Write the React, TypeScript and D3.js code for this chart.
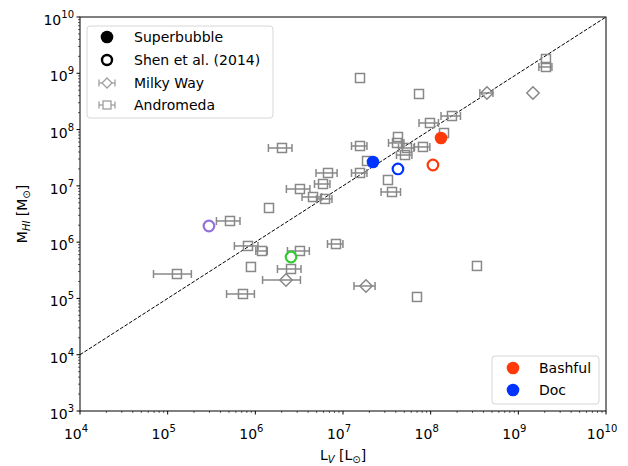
import React from "react";
import * as d3 from "d3";

// log10 values
const andromedaLogL = [7.194, 7.867, 9.315, 9.315, 8.243, 7.992, 8.152, 7.627, 7.616, 7.73, 7.707, 7.912, 7.194, 7.274, 7.194, 7.513, 7.559, 6.304, 6.829, 6.772, 6.509, 6.658, 6.795, 6.156, 5.711, 5.916, 6.076, 6.509, 6.92, 5.95, 5.106, 6.407, 5.859, 8.528, 7.844];
const andromedaLogM = [8.916, 8.632, 9.254, 9.112, 8.241, 8.117, 7.939, 7.868, 7.762, 7.673, 7.548, 7.691, 7.708, 7.442, 7.229, 7.104, 6.891, 7.673, 7.229, 7.033, 6.944, 6.802, 6.767, 6.607, 6.376, 5.932, 5.843, 5.843, 5.967, 5.559, 5.434, 5.523, 5.079, 5.577, 5.026];
const andromedaErr = [0, 0, 0, 0.17, 0.25, 0.25, 0, 0, 0.2, 0.2, 0.2, 0.2, 0.2, 0, 0.2, 0, 0.25, 0.3, 0.27, 0.2, 0.3, 0.25, 0.2, 0, 0.3, 0.3, 0.15, 0.28, 0.2, 0, 0.46, 0.3, 0.35, 0, 0];

const milkyLogL = [8.642, 9.167, 7.262, 6.35];
const milkyLogM = [8.65, 8.65, 5.221, 5.328];
const milkyErr = [0.17, 0, 0.27, 0.46];

const superNames = ["Bashful", "Doc"];
const superColors = ["#ff3a0a", "#0033ff"];
const superLogL = [8.118, 7.342];
const superLogM = [7.85, 7.424];

const shenLogL = [8.026, 7.627, 5.471, 6.407];
const shenLogM = [7.371, 7.3, 6.287, 5.736];
const shenColors = ["#ff3a0a", "#0033ff", "#9370db", "#32cd32"];

const xDecades = [4, 5, 6, 7, 8, 9, 10];
const yDecades = [3, 4, 5, 6, 7, 8, 9, 10];

const W = 628, H = 466;
const L = 80, R = 606, T = 17, B = 411;
const font = "DejaVu Sans, sans-serif";
const gray = "#888888";
const FS = 14;
const FSS = 10;

const x = d3.scaleLog().domain([1e4, 1e10]).range([L, R]);
const y = d3.scaleLog().domain([1e3, 1e10]).range([B, T]);

function minors(decs: number[]) {
  const out: number[] = [];
  for (let i = 0; i < decs.length - 1; i++)
    for (let k = 2; k <= 9; k++) out.push(k * Math.pow(10, decs[i]));
  return out;
}

function ErrBar({ cx, cy, v, frac, h }: any) {
  if (!frac) return null;
  const x1 = x(v * (1 - frac));
  const x2 = x(v * (1 + frac));
  return (
    <g stroke={gray} strokeWidth={1.5} fill="none">
      <line x1={x1} x2={x2} y1={cy} y2={cy} />
      <line x1={x1} x2={x1} y1={cy - h} y2={cy + h} />
      <line x1={x2} x2={x2} y1={cy - h} y2={cy + h} />
    </g>
  );
}

function Square({ cx, cy, s = 4.5 }: any) {
  return <rect x={cx - s} y={cy - s} width={2 * s} height={2 * s} fill="none" stroke={gray} strokeWidth={1.5} />;
}
function Diamond({ cx, cy, s = 6.2 }: any) {
  return <path d={`M${cx},${cy - s}L${cx + s},${cy}L${cx},${cy + s}L${cx - s},${cy}Z`} fill="none" stroke={gray} strokeWidth={1.5} />;
}

function Pow({ base = "10", exp, ...rest }: any) {
  return (
    <text {...rest} fontFamily={font}>
      <tspan fontSize={FS}>{base}</tspan>
      <tspan fontSize={FSS} dy={-7}>{exp}</tspan>
    </text>
  );
}

export default function App() {
  const andromeda = andromedaLogL.map((lx, i) => ({ v: Math.pow(10, lx), m: Math.pow(10, andromedaLogM[i]), e: andromedaErr[i] }));
  const milky = milkyLogL.map((lx, i) => ({ v: Math.pow(10, lx), m: Math.pow(10, milkyLogM[i]), e: milkyErr[i] }));
  return (
    <svg width={W} height={H} style={{ position: "absolute", left: 0, top: 0, background: "white" }}>
      <rect width={W} height={H} fill="white" />
      {/* one-to-one line */}
      <line x1={x(1e4)} y1={y(1e4)} x2={x(1e10)} y2={y(1e10)} stroke="black" strokeWidth={1} strokeDasharray="3.7,1.6" />
      {/* Andromeda */}
      {andromeda.map((d, i) => (
        <g key={"a" + i}>
          <ErrBar cx={x(d.v)} cy={y(d.m)} v={d.v} frac={d.e} h={4} />
          <Square cx={x(d.v)} cy={y(d.m)} />
        </g>
      ))}
      {/* Milky Way */}
      {milky.map((d, i) => (
        <g key={"m" + i}>
          <ErrBar cx={x(d.v)} cy={y(d.m)} v={d.v} frac={d.e} h={4} />
          <Diamond cx={x(d.v)} cy={y(d.m)} />
        </g>
      ))}
      {/* Shen et al. */}
      {shenLogL.map((lx, i) => (
        <circle key={"s" + i} cx={x(Math.pow(10, lx))} cy={y(Math.pow(10, shenLogM[i]))} r={5.3} fill="none" stroke={shenColors[i]} strokeWidth={2.2} />
      ))}
      {/* Superbubble */}
      {superLogL.map((lx, i) => (
        <circle key={"b" + i} cx={x(Math.pow(10, lx))} cy={y(Math.pow(10, superLogM[i]))} r={6.3} fill={superColors[i]} />
      ))}
      {/* frame */}
      <rect x={L} y={T} width={R - L} height={B - T} fill="none" stroke="black" strokeWidth={1} />
      {/* x ticks */}
      {xDecades.map((d) => (
        <g key={"xt" + d}>
          <line x1={x(Math.pow(10, d))} x2={x(Math.pow(10, d))} y1={B} y2={B + 3.5} stroke="black" />
          <Pow exp={d} x={x(Math.pow(10, d)) - 4} y={439} textAnchor="middle" />
        </g>
      ))}
      {minors(xDecades).map((v, i) => (
        <line key={"xm" + i} x1={x(v)} x2={x(v)} y1={B} y2={B + 2} stroke="black" strokeWidth={0.6} />
      ))}
      {yDecades.map((d) => (
        <g key={"yt" + d}>
          <line x1={L - 3.5} x2={L} y1={y(Math.pow(10, d))} y2={y(Math.pow(10, d))} stroke="black" />
          <Pow exp={d} x={L - 6} y={y(Math.pow(10, d)) + 8} textAnchor="end" />
        </g>
      ))}
      {minors(yDecades).map((v, i) => (
        <line key={"ym" + i} x1={L - 2} x2={L} y1={y(v)} y2={y(v)} stroke="black" strokeWidth={0.6} />
      ))}
      {/* axis labels */}
      <text x={343} y={460} textAnchor="middle" fontFamily={font} fontSize={FS}>
        <tspan>L</tspan>
        <tspan fontSize={FSS} fontStyle="italic" dy={3}>V</tspan>
        <tspan dy={-3}> [L</tspan>
        <tspan fontSize={FSS} dy={3}>⊙</tspan>
        <tspan dy={-3}>]</tspan>
      </text>
      <text transform={`translate(27,${(T + B) / 2}) rotate(-90)`} textAnchor="middle" fontFamily={font} fontSize={FS}>
        <tspan>M</tspan>
        <tspan fontSize={FSS} fontStyle="italic" dy={3}>HI</tspan>
        <tspan dy={-3}> [M</tspan>
        <tspan fontSize={FSS} dy={3}>⊙</tspan>
        <tspan dy={-3}>]</tspan>
      </text>
      {/* legend 1 */}
      <rect x={87} y={26} width={186} height={92} rx={3} fill="white" fillOpacity={0.8} stroke="#d6d6d6" />
      <circle cx={107} cy={37} r={6.3} fill="black" />
      <text x={134} y={42} fontFamily={font} fontSize={FS}>Superbubble</text>
      <circle cx={107} cy={60} r={5} fill="none" stroke="black" strokeWidth={2.4} />
      <text x={134} y={65} fontFamily={font} fontSize={FS}>Shen et al. (2014)</text>
      <g opacity={0.8}>
        <line x1={99} x2={115} y1={83} y2={83} stroke={gray} strokeWidth={1.3} />
        <line x1={99} x2={99} y1={79.5} y2={86.5} stroke={gray} strokeWidth={1.3} />
        <line x1={115} x2={115} y1={79.5} y2={86.5} stroke={gray} strokeWidth={1.3} />
        <path d="M107,78L112,83L107,88L102,83Z" fill="white" stroke={gray} strokeWidth={1.3} />
        <line x1={99} x2={115} y1={105} y2={105} stroke={gray} strokeWidth={1.3} />
        <line x1={99} x2={99} y1={101.5} y2={108.5} stroke={gray} strokeWidth={1.3} />
        <line x1={115} x2={115} y1={101.5} y2={108.5} stroke={gray} strokeWidth={1.3} />
        <rect x={103} y={101} width={8} height={8} fill="white" stroke={gray} strokeWidth={1.3} />
      </g>
      <text x={134} y={88} fontFamily={font} fontSize={FS}>Milky Way</text>
      <text x={134} y={110} fontFamily={font} fontSize={FS}>Andromeda</text>
      {/* legend 2 */}
      <rect x={492} y={356} width={107} height={48} rx={3} fill="white" fillOpacity={0.8} stroke="#d6d6d6" />
      {superNames.map((n, i) => (
        <g key={n}>
          <circle cx={513} cy={368 + i * 22} r={6.3} fill={superColors[i]} />
          <text x={539} y={373 + i * 22} fontFamily={font} fontSize={FS}>{n}</text>
        </g>
      ))}
    </svg>
  );
}
